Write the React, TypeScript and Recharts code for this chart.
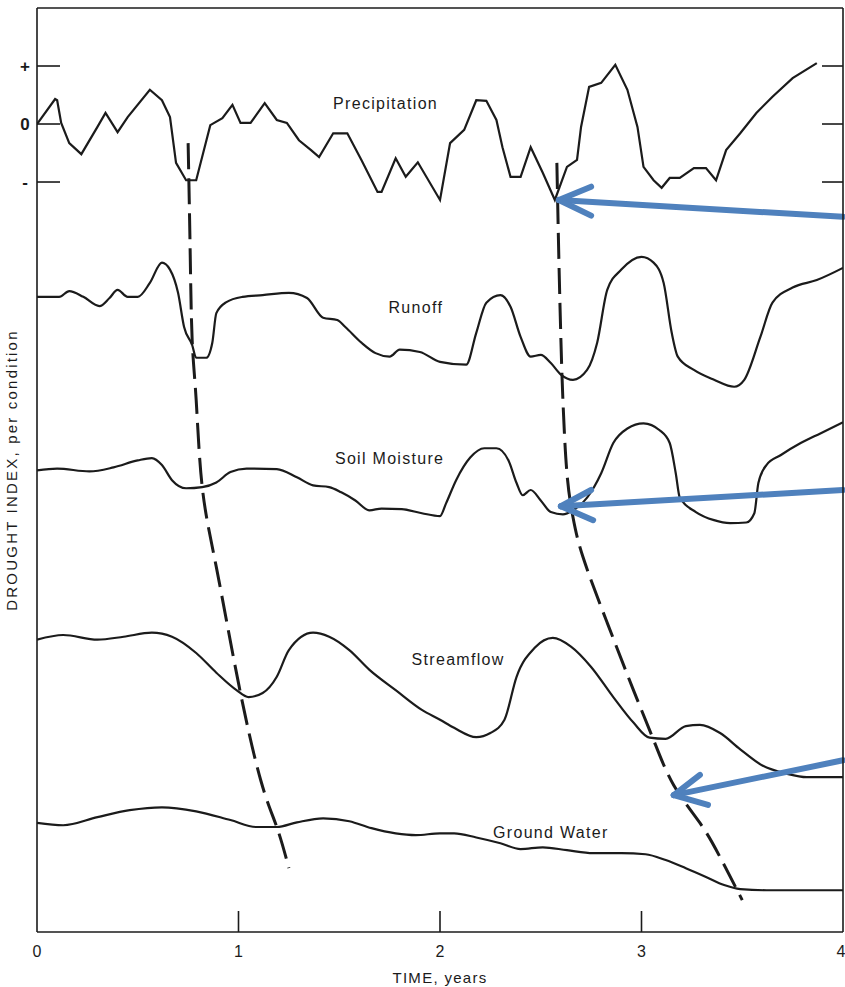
import { Label, Line, LineChart, ReferenceDot, ReferenceLine, XAxis, YAxis } from "recharts";

const W = 845;
const H = 987;
const INK = "#1b1b1b";
const ARROW = "#4f81bd";
const FONT = "'Liberation Sans', Arial, sans-serif";

// [time in years, index relative to the curve's own zero line]
const PRECIPITATION: [number, number][] = [
  [0, 0], [0.09, 0.43], [0.1, 0.41], [0.12, 0.02], [0.16, -0.33], [0.22, -0.52], [0.3, -0.05],
  [0.34, 0.19], [0.4, -0.14], [0.45, 0.12], [0.56, 0.59], [0.62, 0.41], [0.66, 0.12], [0.69, -0.67],
  [0.74, -0.97], [0.79, -0.97], [0.86, -0.02], [0.92, 0.1], [0.97, 0.33], [1.01, 0.02], [1.06, 0.02],
  [1.13, 0.36], [1.19, 0.07], [1.24, 0.02], [1.3, -0.28], [1.36, -0.45], [1.4, -0.57], [1.47, -0.16],
  [1.54, -0.16], [1.61, -0.62], [1.69, -1.17], [1.71, -1.17], [1.78, -0.59], [1.83, -0.91], [1.89, -0.66],
  [2.0, -1.31], [2.05, -0.33], [2.12, -0.1], [2.18, 0.41], [2.23, 0.4], [2.28, 0.07], [2.31, -0.4],
  [2.35, -0.91], [2.4, -0.91], [2.45, -0.4], [2.51, -0.84], [2.57, -1.31], [2.63, -0.74], [2.68, -0.62],
  [2.7, -0.05], [2.74, 0.64], [2.8, 0.71], [2.87, 1.02], [2.93, 0.59], [2.98, -0.05], [3.01, -0.74],
  [3.06, -0.97], [3.1, -1.1], [3.14, -0.93], [3.19, -0.93], [3.26, -0.76], [3.32, -0.76], [3.37, -0.97],
  [3.42, -0.45], [3.49, -0.16], [3.57, 0.19], [3.65, 0.47], [3.75, 0.79], [3.87, 1.05],
];

const RUNOFF: [number, number][] = [
  [0, 0], [0.11, 0], [0.16, 0.1], [0.23, 0], [0.31, -0.16], [0.36, -0.02], [0.4, 0.12], [0.45, 0],
  [0.5, 0], [0.56, 0.24], [0.62, 0.59], [0.66, 0.47], [0.7, 0.07], [0.73, -0.52], [0.77, -0.83],
  [0.79, -1.05], [0.84, -1.05], [0.87, -0.79], [0.89, -0.28], [0.94, -0.09], [1.02, 0], [1.12, 0.03],
  [1.25, 0.07], [1.34, -0.02], [1.42, -0.36], [1.49, -0.4], [1.53, -0.52], [1.61, -0.79], [1.68, -0.97],
  [1.75, -1.03], [1.8, -0.91], [1.9, -0.95], [2.0, -1.12], [2.13, -1.17], [2.18, -0.62], [2.23, -0.1],
  [2.3, 0.03], [2.35, -0.17], [2.4, -0.69], [2.45, -1.03], [2.5, -1.0], [2.55, -1.14], [2.6, -1.34],
  [2.66, -1.43], [2.73, -1.26], [2.78, -0.79], [2.83, 0.12], [2.9, 0.47], [3.0, 0.69], [3.06, 0.59],
  [3.11, 0.24], [3.15, -0.62], [3.18, -1.03], [3.26, -1.26], [3.36, -1.43], [3.46, -1.55], [3.51, -1.43],
  [3.59, -0.69], [3.65, -0.1], [3.75, 0.16], [3.87, 0.29], [4.0, 0.5],
];

const SOIL_MOISTURE: [number, number][] = [
  [0, 0], [0.1, 0.03], [0.26, -0.02], [0.38, 0.05], [0.5, 0.17], [0.57, 0.21], [0.62, 0.09],
  [0.67, -0.17], [0.74, -0.31], [0.82, -0.29], [0.89, -0.21], [0.96, -0.03], [1.04, 0.03], [1.19, 0.02],
  [1.29, -0.12], [1.37, -0.26], [1.45, -0.29], [1.51, -0.38], [1.58, -0.52], [1.65, -0.69], [1.71, -0.66],
  [1.81, -0.67], [1.91, -0.74], [2.0, -0.79], [2.03, -0.57], [2.08, -0.17], [2.15, 0.22], [2.22, 0.38],
  [2.28, 0.38], [2.34, 0.17], [2.38, -0.22], [2.41, -0.43], [2.45, -0.34], [2.5, -0.52], [2.55, -0.72],
  [2.61, -0.76], [2.66, -0.69], [2.73, -0.47], [2.8, -0.05], [2.86, 0.47], [2.93, 0.72], [3.01, 0.81],
  [3.09, 0.69], [3.14, 0.47], [3.17, -0.05], [3.19, -0.47], [3.27, -0.72], [3.36, -0.86], [3.44, -0.91],
  [3.52, -0.9], [3.56, -0.74], [3.58, -0.22], [3.62, 0.09], [3.69, 0.26], [3.79, 0.47], [3.89, 0.64],
  [4.0, 0.83],
];

const STREAMFLOW: [number, number][] = [
  [0, 0.09], [0.13, 0.17], [0.3, 0.09], [0.43, 0.14], [0.57, 0.21], [0.67, 0.14], [0.79, -0.14],
  [0.89, -0.48], [0.99, -0.78], [1.05, -0.9], [1.12, -0.83], [1.19, -0.55], [1.25, -0.09], [1.37, 0.21],
  [1.45, 0.14], [1.55, -0.09], [1.65, -0.43], [1.78, -0.78], [1.91, -1.12], [2.0, -1.29], [2.07, -1.43],
  [2.18, -1.59], [2.25, -1.52], [2.32, -1.29], [2.38, -0.55], [2.47, -0.05], [2.56, 0.12], [2.65, -0.03],
  [2.75, -0.38], [2.86, -0.9], [2.96, -1.34], [3.04, -1.6], [3.12, -1.62], [3.22, -1.4], [3.29, -1.38],
  [3.39, -1.52], [3.49, -1.8], [3.6, -2.08], [3.72, -2.22], [3.82, -2.28], [4.0, -2.28],
];

const GROUND_WATER: [number, number][] = [
  [0, 0.09], [0.13, 0.05], [0.3, 0.19], [0.46, 0.31], [0.62, 0.36], [0.79, 0.29], [0.96, 0.14],
  [1.09, 0.02], [1.19, 0.02], [1.29, 0.1], [1.42, 0.17], [1.55, 0.12], [1.66, 0], [1.78, -0.09],
  [1.88, -0.12], [2.0, -0.09], [2.07, -0.09], [2.18, -0.16], [2.3, -0.26], [2.4, -0.36], [2.51, -0.33],
  [2.63, -0.38], [2.76, -0.43], [2.9, -0.43], [3.02, -0.45], [3.12, -0.55], [3.22, -0.69], [3.32, -0.84],
  [3.41, -0.98], [3.49, -1.05], [3.62, -1.07], [3.79, -1.07], [4.0, -1.07],
];

// drought fronts, [time, index on the shared scale]
const FRONT_1: [number, number][] = [
  [0.75, -0.33], [0.76, -2.17], [0.77, -3.72], [0.79, -4.76], [0.82, -6.26], [0.89, -7.64],
  [1.0, -9.64], [1.11, -11.31], [1.19, -12.12], [1.25, -12.83],
];
const FRONT_2: [number, number][] = [
  [2.58, -0.67], [2.59, -2.34], [2.6, -3.72], [2.61, -4.76], [2.63, -6.02], [2.66, -6.78], [2.71, -7.47],
  [2.83, -8.6], [2.96, -9.76], [3.06, -10.62], [3.16, -11.4], [3.29, -12.05], [3.39, -12.64], [3.5, -13.38],
];

const NAMES = ["Precipitation", "Runoff", "Soil Moisture", "Streamflow", "Ground Water"];
const CURVES = [PRECIPITATION, RUNOFF, SOIL_MOISTURE, STREAMFLOW, GROUND_WATER];
const BASELINES = [0, -2.98, -5.97, -8.98, -12.14];
const LABEL_AT: [number, number][] = [[1.73, 0.36], [1.88, -3.17], [1.75, -5.76], [2.09, -9.24], [2.55, -12.21]];

const X_TICKS = [0, 1, 2, 3, 4];
const Y_TICKS = [1, 0, -1];
const Y_TICK_LABELS: Record<number, string> = { 1: "+", 0: "0", "-1": "-" };

// blue call-outs: tail, tip, two barbs
const ARROWS: [number, number][][] = [
  [[4, -1.6], [2.59, -1.31], [2.75, -1.08], [2.75, -1.58]],
  [[4, -6.31], [2.6, -6.59], [2.75, -6.31], [2.76, -6.83]],
  [[4, -10.97], [3.16, -11.57], [3.29, -11.22], [3.33, -11.74]],
];

const Y_DOMAIN = [-13.93, 2];

const pts = (arr: [number, number][], base = 0) => arr.map(([t, v]) => ({ t, v: v + base }));

const BottomTick = ({ x, y, payload }: any) => (
  <g>
    {payload.value > 0 && payload.value < 4 && (
      <line x1={x} x2={x} y1={y} y2={y - 21} stroke={INK} strokeWidth={1.6} />
    )}
    <text x={x} y={y + 25} textAnchor="middle" fontSize={16} fontFamily={FONT} fill={INK}>
      {payload.value}
    </text>
  </g>
);

const TopTick = ({ x, y, payload }: any) =>
  payload.value > 0 && payload.value < 4 ? (
    <line x1={x} x2={x} y1={y} y2={y + 20} stroke={INK} strokeWidth={1.6} />
  ) : (
    <g />
  );

const LeftTick = ({ x, y, payload }: any) => (
  <g>
    <line x1={x} x2={x + 23} y1={y} y2={y} stroke={INK} strokeWidth={1.6} />
    <text
      x={x - 12}
      y={y}
      textAnchor="middle"
      dominantBaseline="central"
      fontSize={17}
      fontWeight={600}
      fontFamily={FONT}
      fill={INK}
    >
      {Y_TICK_LABELS[payload.value]}
    </text>
  </g>
);

const RightTick = ({ x, y }: any) => <line x1={x} x2={x - 21} y1={y} y2={y} stroke={INK} strokeWidth={1.6} />;

export default function App() {
  return (
    <div style={{ position: "absolute", left: 0, top: 0, width: W, height: H, background: "#fff" }}>
      <LineChart width={W} height={H} margin={{ top: 0, right: 0, bottom: 0, left: 0 }}>
        <XAxis
          dataKey="t"
          type="number"
          domain={[0, 4]}
          ticks={X_TICKS}
          allowDataOverflow
          height={55}
          tickSize={0}
          tickMargin={0}
          tick={<BottomTick />}
          axisLine={{ stroke: INK, strokeWidth: 1.6 }}
        >
          <Label
            content={(p: any) => {
              const { x, y, width } = p.viewBox;
              return (
                <text
                  x={x + width / 2}
                  y={y + 51}
                  textAnchor="middle"
                  fontSize={15}
                  letterSpacing={1.3}
                  fontFamily={FONT}
                  fill={INK}
                >
                  TIME, years
                </text>
              );
            }}
          />
        </XAxis>
        <XAxis
          xAxisId="top"
          orientation="top"
          type="number"
          domain={[0, 4]}
          ticks={X_TICKS}
          allowDataOverflow
          height={8}
          tickSize={0}
          tickMargin={0}
          tick={<TopTick />}
          axisLine={{ stroke: INK, strokeWidth: 1.6 }}
        />
        <YAxis
          type="number"
          domain={Y_DOMAIN}
          ticks={Y_TICKS}
          allowDataOverflow
          width={37}
          tickSize={0}
          tickMargin={0}
          tick={<LeftTick />}
          axisLine={{ stroke: INK, strokeWidth: 1.6 }}
        >
          <Label
            content={(p: any) => {
              const { x, y, height } = p.viewBox;
              const cx = x + 11;
              const cy = y + height / 2;
              return (
                <text
                  x={cx}
                  y={cy}
                  transform={`rotate(-90 ${cx} ${cy})`}
                  textAnchor="middle"
                  dominantBaseline="central"
                  fontSize={15}
                  letterSpacing={2.2}
                  fontFamily={FONT}
                  fill={INK}
                >
                  DROUGHT INDEX, per condition
                </text>
              );
            }}
          />
        </YAxis>
        <YAxis
          yAxisId="right"
          orientation="right"
          type="number"
          domain={Y_DOMAIN}
          ticks={Y_TICKS}
          allowDataOverflow
          width={2}
          tickSize={0}
          tickMargin={0}
          tick={<RightTick />}
          axisLine={{ stroke: INK, strokeWidth: 1.6 }}
        />

        {CURVES.map((c, i) => (
          <Line
            key={NAMES[i]}
            data={pts(c, BASELINES[i])}
            dataKey="v"
            type={i === 0 ? "linear" : "monotone"}
            stroke={INK}
            strokeWidth={2.2}
            dot={false}
            isAnimationActive={false}
          />
        ))}
        {[FRONT_1, FRONT_2].map((f, i) => (
          <Line
            key={`front${i}`}
            data={pts(f)}
            dataKey="v"
            type="natural"
            stroke={INK}
            strokeWidth={3}
            strokeDasharray="26 9"
            dot={false}
            isAnimationActive={false}
          />
        ))}

        {LABEL_AT.map(([t, v], i) => (
          <ReferenceDot
            key={`lbl${i}`}
            x={t}
            y={v}
            r={0}
            ifOverflow="visible"
            shape={(p: any) => (
              <text
                x={p.cx}
                y={p.cy}
                textAnchor="middle"
                dominantBaseline="central"
                fontSize={16}
                letterSpacing={1.3}
                fontFamily={FONT}
                fill={INK}
              >
                {NAMES[i]}
              </text>
            )}
          />
        ))}

        {ARROWS.map(([tail, tip, b1, b2], i) =>
          [
            [tail, tip],
            [tip, b1],
            [tip, b2],
          ].map(([a, b], j) => (
            <ReferenceLine
              key={`arr${i}-${j}`}
              segment={[
                { x: a[0], y: a[1] },
                { x: b[0], y: b[1] },
              ]}
              stroke={ARROW}
              strokeWidth={6}
              strokeLinecap="round"
              ifOverflow="visible"
            />
          ))
        )}
      </LineChart>
    </div>
  );
}
